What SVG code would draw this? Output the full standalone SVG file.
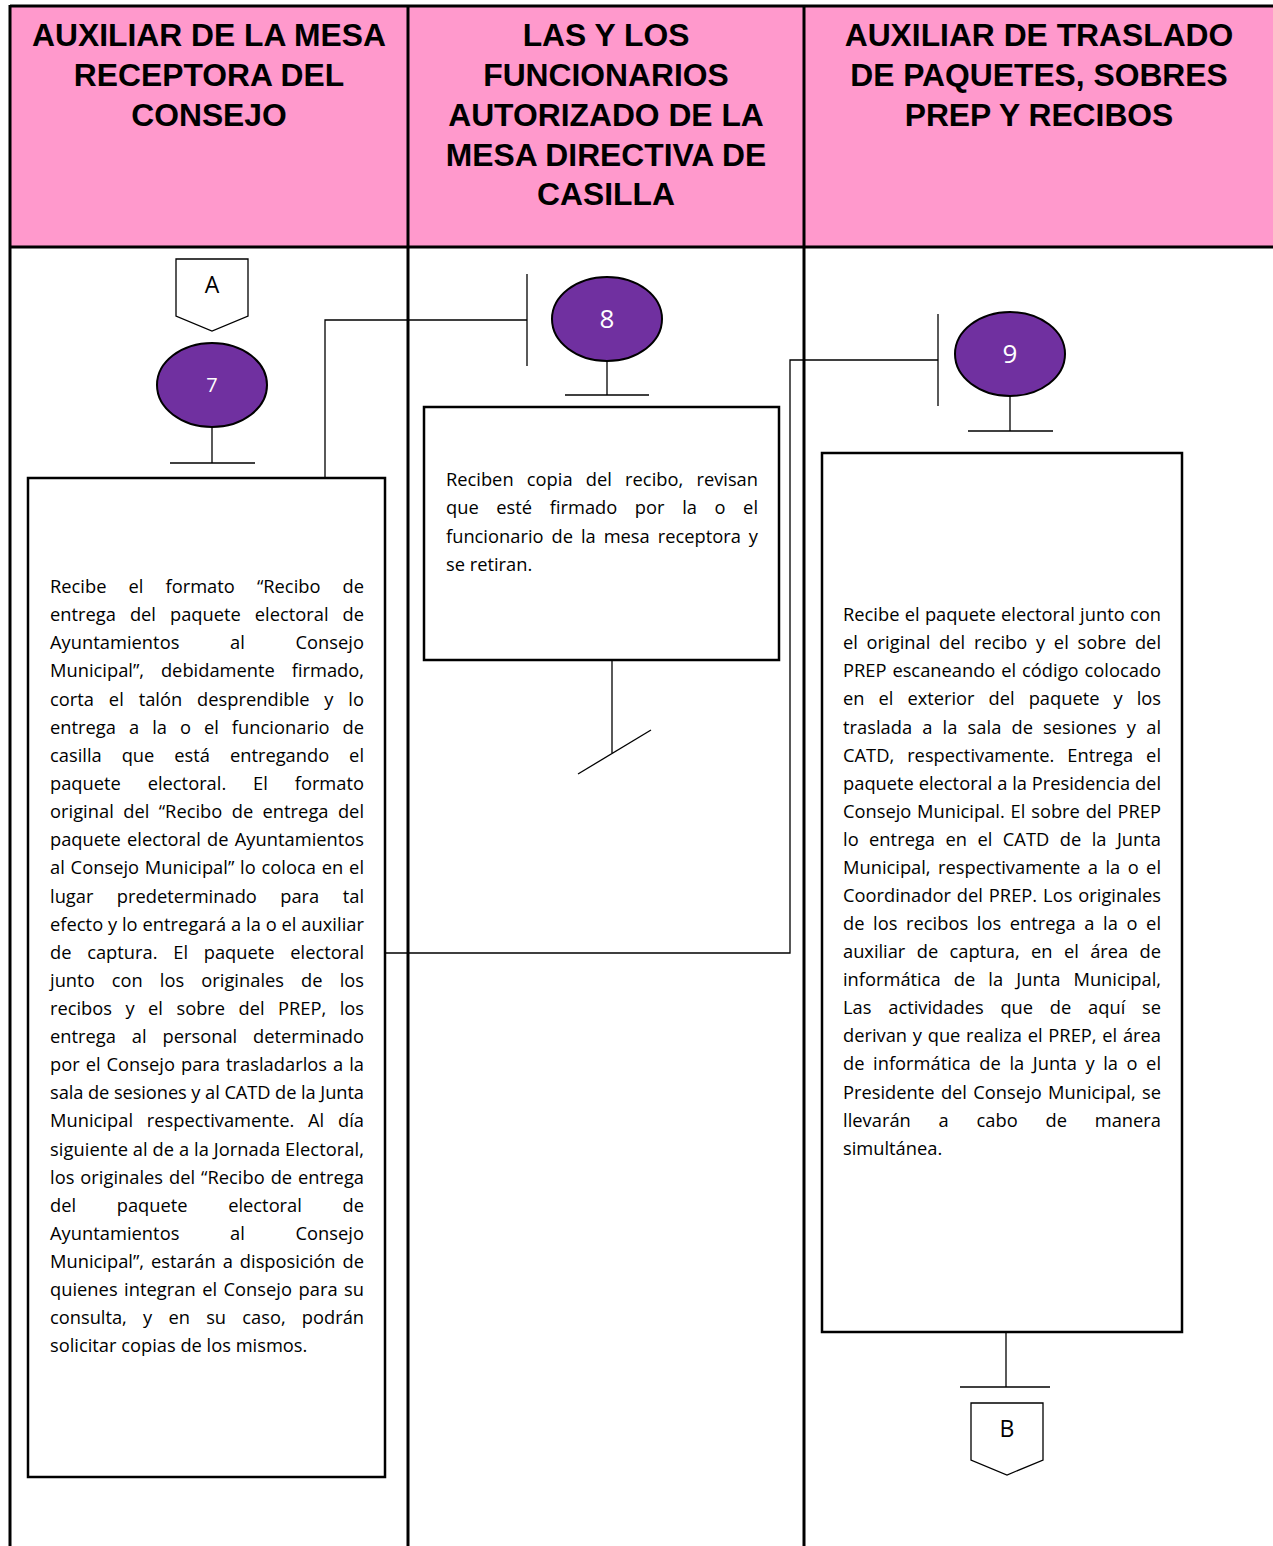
<svg xmlns="http://www.w3.org/2000/svg" width="1273" height="1546" viewBox="0 0 1273 1546">
<style>
.hdr{font-family:"Liberation Sans",Arial,sans-serif;font-weight:bold;font-size:31.8px;fill:#000;text-anchor:middle}
.body{font-family:"Open Sans",Lato,"Liberation Sans",sans-serif;font-size:18.3px;fill:#000}
.num{font-family:"Open Sans",Lato,sans-serif;fill:#fff;text-anchor:middle}
.lbl{font-family:"Open Sans",Lato,sans-serif;font-size:23px;fill:#000;text-anchor:middle}
.box{fill:#fff;stroke:#000;stroke-width:2.5}
.ell{fill:#7030A0;stroke:#000;stroke-width:2}
.ln{stroke:#000;stroke-width:1.3;fill:none}
.lane{stroke:#000;stroke-width:3;fill:none}
.off{fill:#fff;stroke:#000;stroke-width:1.3}
</style>
<rect width="1273" height="1546" fill="#fff"/>
<g id="lanes">
<rect x="10" y="6" width="1266" height="241" fill="#FF99CC"/>
<line class="lane" x1="10" y1="6" x2="1273" y2="6"/>
<line class="lane" x1="10" y1="247" x2="1273" y2="247"/>
<line class="lane" x1="10" y1="5" x2="10" y2="1546"/>
<line class="lane" x1="408" y1="5" x2="408" y2="1546"/>
<line class="lane" x1="804" y1="5" x2="804" y2="1546"/>
<text class="hdr"><tspan x="209" y="46">AUXILIAR DE LA MESA</tspan><tspan x="209" y="86">RECEPTORA DEL</tspan><tspan x="209" y="126">CONSEJO</tspan></text>
<text class="hdr"><tspan x="606" y="46">LAS Y LOS</tspan><tspan x="606" y="86">FUNCIONARIOS</tspan><tspan x="606" y="126">AUTORIZADO DE LA</tspan><tspan x="606" y="166">MESA DIRECTIVA DE</tspan><tspan x="606" y="205">CASILLA</tspan></text>
<text class="hdr"><tspan x="1039" y="46">AUXILIAR DE TRASLADO</tspan><tspan x="1039" y="86">DE PAQUETES, SOBRES</tspan><tspan x="1039" y="126">PREP Y RECIBOS</tspan></text>
</g>
<g id="connectors">
<line class="ln" x1="212" y1="427" x2="212" y2="463"/>
<line class="ln" x1="170" y1="463" x2="255" y2="463"/>
<polyline class="ln" points="325,478 325,320 527,320"/>
<line class="ln" x1="527" y1="274" x2="527" y2="366"/>
<line class="ln" x1="607" y1="361" x2="607" y2="395"/>
<line class="ln" x1="565" y1="395" x2="649" y2="395"/>
<line class="ln" x1="612" y1="660" x2="612" y2="753"/>
<line class="ln" x1="578" y1="774" x2="651" y2="730"/>
<polyline class="ln" points="385,953 790,953 790,360 938,360"/>
<line class="ln" x1="938" y1="314" x2="938" y2="406"/>
<line class="ln" x1="1010" y1="396" x2="1010" y2="431"/>
<line class="ln" x1="968" y1="431" x2="1053" y2="431"/>
<line class="ln" x1="1006" y1="1332" x2="1006" y2="1387"/>
<line class="ln" x1="960" y1="1387" x2="1050" y2="1387"/>
</g>
<g id="offpage-A">
<polygon class="off" points="176,259 248,259 248,316 212,331 176,316"/>
<text class="lbl" x="212" y="293">A</text>
</g>
<g id="node-7">
<ellipse class="ell" cx="212" cy="385" rx="55" ry="42"/>
<text class="num" x="212" y="392" font-size="20">7</text>
</g>
<g id="box-7">
<rect class="box" x="28" y="478" width="357" height="999"/>
<text class="body">
<tspan x="50" y="593" word-spacing="17.3" textLength="314" lengthAdjust="spacing">Recibe el formato “Recibo de</tspan>
<tspan x="50" y="621" word-spacing="9.2" textLength="314" lengthAdjust="spacing">entrega del paquete electoral de</tspan>
<tspan x="50" y="649" word-spacing="45.9" textLength="314" lengthAdjust="spacing">Ayuntamientos al Consejo</tspan>
<tspan x="50" y="677" word-spacing="12.1" textLength="314" lengthAdjust="spacing">Municipal”, debidamente firmado,</tspan>
<tspan x="50" y="706" word-spacing="10.1" textLength="314" lengthAdjust="spacing">corta el talón desprendible y lo</tspan>
<tspan x="50" y="734" word-spacing="8.2" textLength="314" lengthAdjust="spacing">entrega a la o el funcionario de</tspan>
<tspan x="50" y="762" word-spacing="15.2" textLength="314" lengthAdjust="spacing">casilla que está entregando el</tspan>
<tspan x="50" y="790" word-spacing="22.1" textLength="314" lengthAdjust="spacing">paquete electoral. El formato</tspan>
<tspan x="50" y="818" word-spacing="4.6" textLength="314" lengthAdjust="spacing">original del “Recibo de entrega del</tspan>
<tspan x="50" y="846" word-spacing="1.5" textLength="314" lengthAdjust="spacing">paquete electoral de Ayuntamientos</tspan>
<tspan x="50" y="874" word-spacing="1" textLength="314" lengthAdjust="spacing">al Consejo Municipal” lo coloca en el</tspan>
<tspan x="50" y="903" word-spacing="18.6" textLength="314" lengthAdjust="spacing">lugar predeterminado para tal</tspan>
<tspan x="50" y="931" textLength="314" lengthAdjust="spacing">efecto y lo entregará a la o el auxiliar</tspan>
<tspan x="50" y="959" word-spacing="11" textLength="314" lengthAdjust="spacing">de captura. El paquete electoral</tspan>
<tspan x="50" y="987" word-spacing="12.3" textLength="314" lengthAdjust="spacing">junto con los originales de los</tspan>
<tspan x="50" y="1015" word-spacing="8.8" textLength="314" lengthAdjust="spacing">recibos y el sobre del PREP, los</tspan>
<tspan x="50" y="1043" word-spacing="11.1" textLength="314" lengthAdjust="spacing">entrega al personal determinado</tspan>
<tspan x="50" y="1071" word-spacing="1.2" textLength="314" lengthAdjust="spacing">por el Consejo para trasladarlos a la</tspan>
<tspan x="50" y="1099" textLength="314" lengthAdjust="spacing">sala de sesiones y al CATD de la Junta</tspan>
<tspan x="50" y="1127" word-spacing="9" textLength="314" lengthAdjust="spacing">Municipal respectivamente. Al día</tspan>
<tspan x="50" y="1156" textLength="314" lengthAdjust="spacing">siguiente al de a la Jornada Electoral,</tspan>
<tspan x="50" y="1184" word-spacing="1.2" textLength="314" lengthAdjust="spacing">los originales del “Recibo de entrega</tspan>
<tspan x="50" y="1212" word-spacing="35.9" textLength="314" lengthAdjust="spacing">del paquete electoral de</tspan>
<tspan x="50" y="1240" word-spacing="45.9" textLength="314" lengthAdjust="spacing">Ayuntamientos al Consejo</tspan>
<tspan x="50" y="1268" word-spacing="2.2" textLength="314" lengthAdjust="spacing">Municipal”, estarán a disposición de</tspan>
<tspan x="50" y="1296" word-spacing="1.7" textLength="314" lengthAdjust="spacing">quienes integran el Consejo para su</tspan>
<tspan x="50" y="1324" word-spacing="11.5" textLength="314" lengthAdjust="spacing">consulta, y en su caso, podrán</tspan>
<tspan x="50" y="1352">solicitar copias de los mismos.</tspan>
</text>
</g>
<g id="node-8">
<ellipse class="ell" cx="607" cy="319" rx="55" ry="42"/>
<text class="num" x="607" y="328" font-size="26">8</text>
</g>
<g id="box-8">
<rect class="box" x="424" y="407" width="355" height="253"/>
<text class="body">
<tspan x="446" y="486" word-spacing="8.5" textLength="312" lengthAdjust="spacing">Reciben copia del recibo, revisan</tspan>
<tspan x="446" y="514" word-spacing="12.8" textLength="312" lengthAdjust="spacing">que esté firmado por la o el</tspan>
<tspan x="446" y="543" word-spacing="3.2" textLength="312" lengthAdjust="spacing">funcionario de la mesa receptora y</tspan>
<tspan x="446" y="571">se retiran.</tspan>
</text>
</g>
<g id="node-9">
<ellipse class="ell" cx="1010" cy="354" rx="55" ry="42"/>
<text class="num" x="1010" y="363" font-size="26">9</text>
</g>
<g id="box-9">
<rect class="box" x="822" y="453" width="360" height="879"/>
<text class="body">
<tspan x="843" y="621" word-spacing="0.5" textLength="318" lengthAdjust="spacing">Recibe el paquete electoral junto con</tspan>
<tspan x="843" y="649" word-spacing="3.9" textLength="318" lengthAdjust="spacing">el original del recibo y el sobre del</tspan>
<tspan x="843" y="677" word-spacing="1.2" textLength="318" lengthAdjust="spacing">PREP escaneando el código colocado</tspan>
<tspan x="843" y="705" word-spacing="9.3" textLength="318" lengthAdjust="spacing">en el exterior del paquete y los</tspan>
<tspan x="843" y="734" word-spacing="5.4" textLength="318" lengthAdjust="spacing">traslada a la sala de sesiones y al</tspan>
<tspan x="843" y="762" word-spacing="8.2" textLength="318" lengthAdjust="spacing">CATD, respectivamente. Entrega el</tspan>
<tspan x="843" y="790" textLength="318" lengthAdjust="spacing">paquete electoral a la Presidencia del</tspan>
<tspan x="843" y="818" word-spacing="1.1" textLength="318" lengthAdjust="spacing">Consejo Municipal. El sobre del PREP</tspan>
<tspan x="843" y="846" word-spacing="5.7" textLength="318" lengthAdjust="spacing">lo entrega en el CATD de la Junta</tspan>
<tspan x="843" y="874" word-spacing="2.7" textLength="318" lengthAdjust="spacing">Municipal, respectivamente a la o el</tspan>
<tspan x="843" y="902" word-spacing="1.2" textLength="318" lengthAdjust="spacing">Coordinador del PREP. Los originales</tspan>
<tspan x="843" y="930" word-spacing="3.8" textLength="318" lengthAdjust="spacing">de los recibos los entrega a la o el</tspan>
<tspan x="843" y="958" word-spacing="6.7" textLength="318" lengthAdjust="spacing">auxiliar de captura, en el área de</tspan>
<tspan x="843" y="986" word-spacing="8.4" textLength="318" lengthAdjust="spacing">informática de la Junta Municipal,</tspan>
<tspan x="843" y="1014" word-spacing="12" textLength="318" lengthAdjust="spacing">Las actividades que de aquí se</tspan>
<tspan x="843" y="1042" word-spacing="1" textLength="318" lengthAdjust="spacing">derivan y que realiza el PREP, el área</tspan>
<tspan x="843" y="1070" word-spacing="3.8" textLength="318" lengthAdjust="spacing">de informática de la Junta y la o el</tspan>
<tspan x="843" y="1099" word-spacing="1.6" textLength="318" lengthAdjust="spacing">Presidente del Consejo Municipal, se</tspan>
<tspan x="843" y="1127" word-spacing="23" textLength="318" lengthAdjust="spacing">llevarán a cabo de manera</tspan>
<tspan x="843" y="1155">simultánea.</tspan>
</text>
</g>
<g id="offpage-B">
<polygon class="off" points="971,1403 1043,1403 1043,1460 1007,1475 971,1460"/>
<text class="lbl" x="1007" y="1437">B</text>
</g>
</svg>
